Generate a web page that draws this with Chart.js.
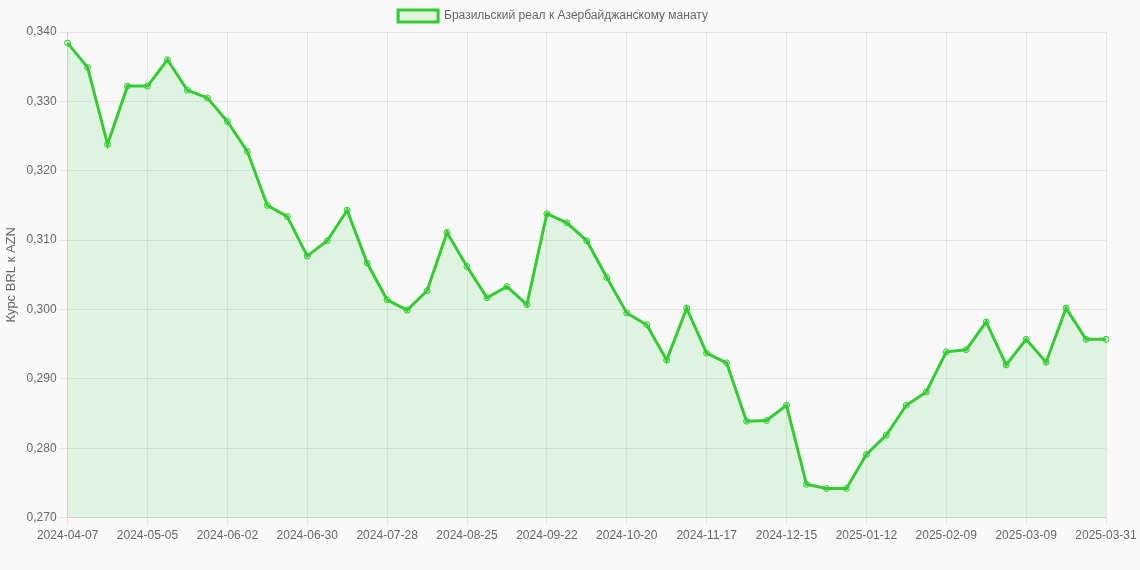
<!DOCTYPE html>
<html>
<head>
<meta charset="utf-8">
<script src="https://cdn.jsdelivr.net/npm/chart.js@4/dist/chart.umd.min.js"></script>
<style>
  html, body { margin: 0; padding: 0; background: #f9f9f9; }
  #wrap { width: 1140px; height: 570px; }
</style>
</head>
<body>
<div id="wrap"><canvas id="rateChart"></canvas></div>
<script>
const labels = [
  '2024-04-07','2024-04-14','2024-04-21','2024-04-28','2024-05-05','2024-05-12','2024-05-19','2024-05-26',
  '2024-06-02','2024-06-09','2024-06-16','2024-06-23','2024-06-30','2024-07-07','2024-07-14','2024-07-21',
  '2024-07-28','2024-08-04','2024-08-11','2024-08-18','2024-08-25','2024-09-01','2024-09-08','2024-09-15',
  '2024-09-22','2024-09-29','2024-10-06','2024-10-13','2024-10-20','2024-10-27','2024-11-03','2024-11-10',
  '2024-11-17','2024-11-24','2024-12-01','2024-12-08','2024-12-15','2024-12-22','2024-12-29','2025-01-05',
  '2025-01-12','2025-01-19','2025-01-26','2025-02-02','2025-02-09','2025-02-16','2025-02-23','2025-03-02',
  '2025-03-09','2025-03-16','2025-03-23','2025-03-30','2025-03-31'
];

const rates = [
  0.3384, 0.3349, 0.3238, 0.3322, 0.3322, 0.3360, 0.3316, 0.3305,
  0.3271, 0.3228, 0.3150, 0.3134, 0.3077, 0.3099, 0.3143, 0.3067,
  0.3014, 0.2999, 0.3027, 0.3111, 0.3062, 0.3017, 0.3033, 0.3007,
  0.3138, 0.3125, 0.3099, 0.3046, 0.2995, 0.2978, 0.2927, 0.3002,
  0.2937, 0.2923, 0.2839, 0.2840, 0.2862, 0.2748, 0.2742, 0.2742,
  0.2791, 0.2819, 0.2862, 0.2881, 0.2939, 0.2942, 0.2982, 0.2920,
  0.2957, 0.2924, 0.3002, 0.2957, 0.2957
];

const seriesLabel = 'Бразильский реал к Азербайджанскому манату';

Chart.defaults.font.family = 'Arial, "Liberation Sans", sans-serif';
Chart.defaults.font.size = 12;
Chart.defaults.color = '#666';

new Chart(document.getElementById('rateChart'), {
  type: 'line',
  data: {
    labels: labels,
    datasets: [{
      label: seriesLabel,
      data: rates,
      borderColor: '#33cc33',
      backgroundColor: 'rgba(51, 204, 51, 0.12)',
      borderWidth: 3,
      fill: true,
      tension: 0,
      pointRadius: 3,
      pointBorderWidth: 1,
      pointBorderColor: '#33cc33',
      pointBackgroundColor: 'rgba(51, 204, 51, 0.2)'
    }]
  },
  options: {
    responsive: true,
    maintainAspectRatio: false,
    animation: false,
    layout: { padding: { left: 0, right: 34, top: 0, bottom: 24 } },
    plugins: {
      legend: {
        labels: { boxWidth: 40, boxHeight: 12, color: '#666' }
      }
    },
    scales: {
      x: {
        grid: { color: 'rgba(0,0,0,0.08)' },
        ticks: {
          autoSkip: false,
          maxRotation: 0,
          color: '#666',
          callback: function(value, index) {
            return (index % 4 === 0 || index === labels.length - 1) ? labels[index] : null;
          }
        }
      },
      y: {
        min: 0.27,
        max: 0.34,
        grid: { color: 'rgba(0,0,0,0.08)' },
        title: { display: true, text: 'Курс BRL к AZN', color: '#666', font: { size: 13 } },
        ticks: {
          stepSize: 0.01,
          color: '#666',
          callback: (value) => value.toFixed(3).replace('.', ',')
        }
      }
    }
  }
});
</script>
</body>
</html>
